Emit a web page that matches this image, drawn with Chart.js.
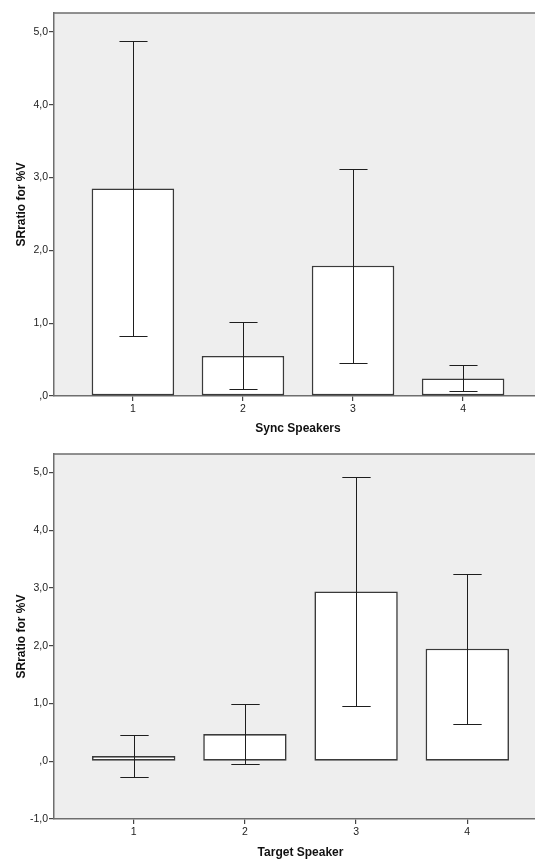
<!DOCTYPE html>
<html>
<head>
<meta charset="utf-8">
<script src="https://cdn.jsdelivr.net/npm/chart.js@4"></script>
<style>
  html, body { margin: 0; padding: 0; background: #fff; }
  #wrap { position: relative; width: 535px; height: 859px; overflow: hidden; }
  #wrap canvas { position: absolute; left: 0; }
</style>
</head>
<body>
<div id="wrap">
  <canvas id="syncChart" width="550" height="440" style="top:0"></canvas>
  <canvas id="targetChart" width="550" height="419" style="top:440px"></canvas>
</div>
<script>
// speaker numbers on the x axis
const speakers = [1, 2, 3, 4];

// top panel: Sync Speakers
const syncMeans = [2.85, 0.55, 1.79, 0.24];
const syncLow = [0.82, 0.09, 0.46, 0.07];
const syncHigh = [4.87, 1.02, 3.12, 0.42];

// bottom panel: Target Speaker
const targetMeans = [0.09, 0.47, 2.94, 1.95];
const targetLow = [-0.28, -0.05, 0.95, 0.65];
const targetHigh = [0.46, 0.99, 4.93, 3.25];

Chart.defaults.font.family = 'Arial, "Liberation Sans", sans-serif';
Chart.defaults.color = '#222';

// comma decimals like the SPSS output (",0" for zero)
function fmt(v) {
  let s = v.toFixed(1).replace('.', ',');
  if (s.startsWith('0,')) s = s.slice(1);
  return s;
}

// grey plot background + top/right frame lines
const framePlugin = {
  id: 'frame',
  beforeDraw(chart) {
    const a = chart.chartArea, ctx = chart.ctx;
    ctx.save();
    ctx.fillStyle = '#eeeeee';
    ctx.fillRect(a.left, a.top, a.right - a.left, a.bottom - a.top);
    ctx.restore();
  },
  afterDraw(chart) {
    const a = chart.chartArea, ctx = chart.ctx;
    ctx.save();
    ctx.strokeStyle = '#6e6e6e';
    ctx.lineWidth = 1.5;
    ctx.beginPath();
    ctx.moveTo(a.left, a.top);
    ctx.lineTo(a.right, a.top);
    ctx.lineTo(a.right, a.bottom);
    ctx.stroke();
    ctx.restore();
  }
};

// error bars drawn from low/high arrays
const errorPlugin = {
  id: 'errbars',
  afterDatasetsDraw(chart, args, opts) {
    const ctx = chart.ctx, y = chart.scales.y;
    const meta = chart.getDatasetMeta(0);
    ctx.save();
    ctx.strokeStyle = '#1e1e1e';
    ctx.lineWidth = 1;
    meta.data.forEach((bar, i) => {
      const x = Math.round(bar.x) + 0.5;
      const half = bar.width * 0.17;
      const yh = Math.round(y.getPixelForValue(opts.high[i])) + 0.5;
      const yl = Math.round(y.getPixelForValue(opts.low[i])) + 0.5;
      ctx.beginPath();
      ctx.moveTo(x, yh); ctx.lineTo(x, yl);
      ctx.moveTo(x - half, yh); ctx.lineTo(x + half, yh);
      ctx.moveTo(x - half, yl); ctx.lineTo(x + half, yl);
      ctx.stroke();
    });
    ctx.restore();
  }
};

function makeChart(id, means, low, high, yMin, yMax, xTitle, padTop, padRight, xHeight, titlePad) {
  const ctx = document.getElementById(id).getContext('2d');
  return new Chart(ctx, {
    type: 'bar',
    data: {
      datasets: [{
        data: speakers.map((s, i) => ({ x: s, y: means[i] })),
        backgroundColor: '#ffffff',
        borderColor: '#3a3a3a',
        borderWidth: 1.6,
        borderSkipped: false,
        barPercentage: 0.75,
        categoryPercentage: 1.0
      }]
    },
    options: {
      responsive: false,
      animation: false,
      devicePixelRatio: 1,
      layout: { padding: { top: padTop, right: padRight, left: 0, bottom: 0 } },
      plugins: {
        legend: { display: false },
        tooltip: { enabled: false },
        errbars: { low: low, high: high }
      },
      scales: {
        x: {
          type: 'linear',
          min: 0.283,
          max: 4.717,
          offset: false,
          afterFit: s => { s.height = xHeight; },
          grid: { display: true, offset: false, drawOnChartArea: false, drawTicks: true, tickLength: 5, color: '#444', lineWidth: 1.2 },
          border: { display: true, color: '#6e6e6e', width: 1.5 },
          ticks: {
            stepSize: 1, includeBounds: false, padding: 2,
            font: { size: 10.5 }, color: '#222',
            callback: v => String(v)
          },
          title: {
            display: true, text: xTitle,
            font: { size: 12, weight: 'bold', lineHeight: 1 },
            color: '#111',
            padding: { top: 0, bottom: titlePad }
          }
        },
        y: {
          min: yMin,
          max: yMax,
          afterFit: s => { s.width = 54; },
          grid: { display: true, drawOnChartArea: false, drawTicks: true, tickLength: 5, color: '#444', lineWidth: 1.2 },
          border: { display: true, color: '#6e6e6e', width: 1.5 },
          ticks: {
            stepSize: 1, includeBounds: false, padding: 1,
            font: { size: 10.5 }, color: '#222',
            callback: v => fmt(v)
          },
          title: {
            display: true, text: 'SRratio for %V',
            font: { size: 12, weight: 'bold', lineHeight: 1 },
            color: '#111',
            padding: { top: 16, bottom: 0 }
          }
        }
      }
    },
    plugins: [framePlugin, errorPlugin]
  });
}

makeChart('syncChart', syncMeans, syncLow, syncHigh, 0, 5.26, 'Sync Speakers', 13, 8, 44, 5);
makeChart('targetChart', targetMeans, targetLow, targetHigh, -1, 5.32, 'Target Speaker', 14, 3, 40, 0);
</script>
</body>
</html>
